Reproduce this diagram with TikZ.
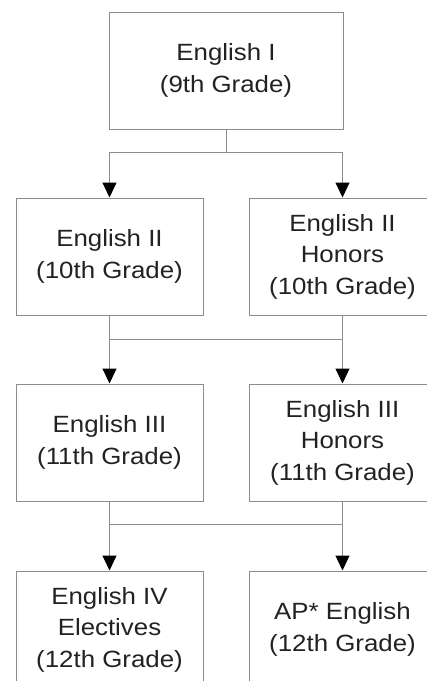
\documentclass[tikz,border=0pt]{standalone}
\usepackage{fontspec}
\setmainfont[FakeStretch=1.1]{Liberation Sans}
\usetikzlibrary{arrows.meta}
\definecolor{framegray}{HTML}{8C8C8C}
\definecolor{inkgray}{HTML}{222222}
\begin{document}
\begin{tikzpicture}[x=1pt,y=-1pt,
  course/.style={draw=framegray, line width=1pt, fill=white, text=inkgray,
    align=center, inner sep=0pt, minimum width=187pt, minimum height=117pt,
    font=\fontsize{23.5}{31.5}\selectfont},
  link/.style={draw=framegray, line width=1pt},
  flow/.style={link, -{Triangle[width=14pt,length=15pt,color=black]}}]
  \useasboundingbox (0,0) rectangle (427,681);
  \fill[white] (0,0) rectangle (427,681);
  \begin{scope}
  \clip (0,0) rectangle (427,681);

  % courses, one row per grade
  \node[course, minimum width=234pt] (e1) at (226,70.5) {English I\\(9th Grade)};
  \node[course] (e2)  at (109.5,256.5) {English II\\(10th Grade)};
  \node[course] (e2h) at (342.5,256.5) {English II\\Honors\\(10th Grade)};
  \node[course] (e3)  at (109.5,442.5) {English III\\(11th Grade)};
  \node[course] (e3h) at (342.5,442.5) {English III\\Honors\\(11th Grade)};
  \node[course] (e4)  at (109.5,629.5) {English IV\\Electives\\(12th Grade)};
  \node[course] (ap)  at (342.5,629.5) {AP* English\\(12th Grade)};

  % junction points of the connectors
  \coordinate (j1) at (226,152);
  \coordinate (j2) at (226,339);
  \coordinate (j3) at (226,524);

  % 9th to 10th grade
  \draw[link] (e1.south) -- (j1);
  \draw[flow] (j1) -| (e2.north);
  \draw[flow] (j1) -| (e2h.north);

  % 10th to 11th grade
  \draw[flow] (e2.south) -- (e3.north);
  \draw[flow] (e2h.south) -- (e3h.north);
  \draw[link] (e2.south |- j2) -- (e2h.south |- j2);

  % 11th to 12th grade
  \draw[flow] (e3.south) -- (e4.north);
  \draw[flow] (e3h.south) -- (ap.north);
  \draw[link] (e3.south |- j3) -- (e3h.south |- j3);
  \end{scope}
\end{tikzpicture}
\end{document}
